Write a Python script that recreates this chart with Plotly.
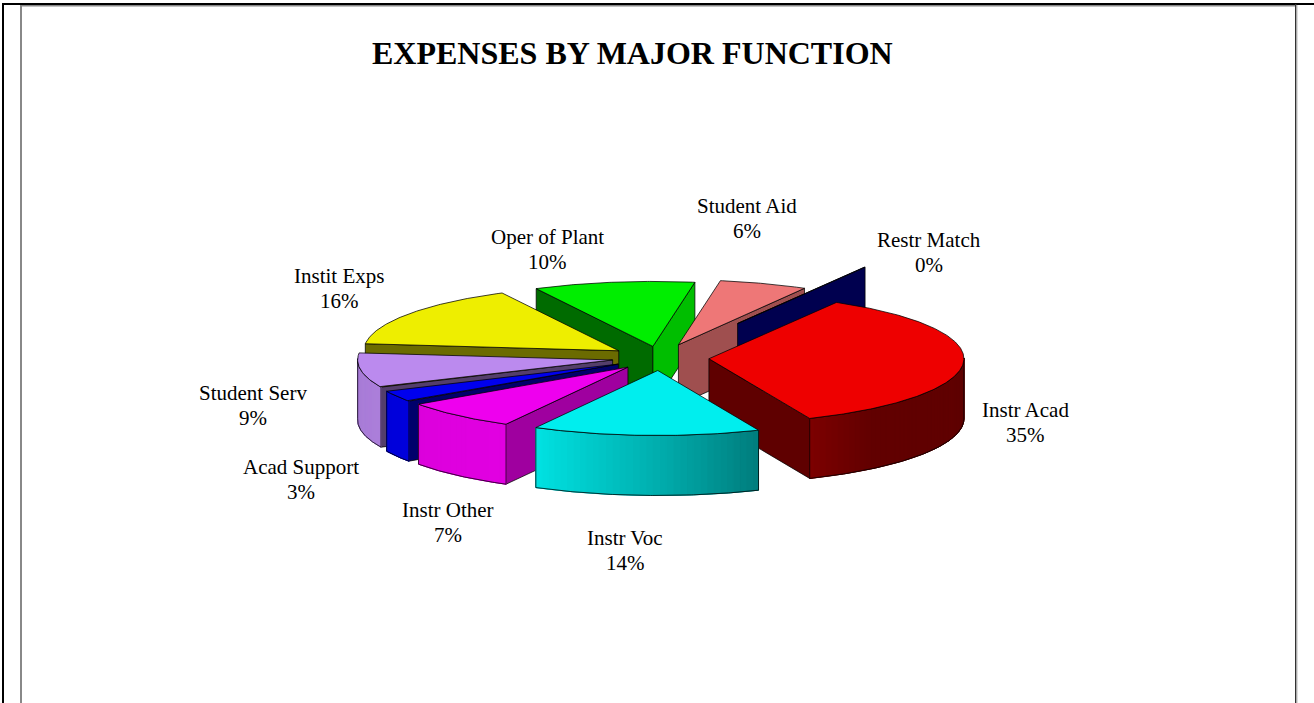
import numpy as np
import plotly.graph_objects as go

# clockwise from Instr Acad, percent of expenses
functions = ['Instr Acad', 'Instr Voc', 'Instr Other', 'Acad Support', 'Student Serv',
             'Instit Exps', 'Oper of Plant', 'Student Aid', 'Restr Match']
percents = [35.2, 14.4, 7.4, 2.8, 8.6, 15.7, 10.2, 5.6, 0.1]

# style
top_colors = ['#EE0000', '#00EEEE', '#EE00EE', '#0000EE', '#BB8AEE',
              '#EEEE00', '#00EE00', '#EE7777', '#000080']
pull = [49, 49, 48, 48, 48, 50, 46, 55, 156]
start_shade = [0, 0, 0.67, 0.45, 0.45, 0.45, 0.45, 0, 0]
end_shade = [0.4, 0, 0, 0, 0, 0, 0.8, 0.67, 0.62]
paint_order = [6, 7, 8, 5, 4, 3, 2, 0, 1]

label_x = [1025, 625, 448, 301, 253, 339, 547, 747, 929]
label_y = [422, 550, 522, 479, 405, 288, 249, 218, 252]

CX, CY = 660, 358
RX, RY = 255, 65
DEPTH = 60
START_ANGLE = 60
LABEL_FONT = 21
TITLE_FONT = 32
STRIP = 3


def shade(color, k):
    r, g, b = [int(color[i:i + 2], 16) for i in (1, 3, 5)]
    return 'rgb({},{},{})'.format(int(r * k), int(g * k), int(b * k))


def outer_shade(angle):
    # light falls off from the left of the pie towards the right
    return np.interp(angle, [-200, -118, -92, -66, -50, 0, 30], [0.88, 0.95, 0.75, 0.52, 0.41, 0.4, 0.4])


def poly(fig, xs, ys, fill, line='black', width=0.75):
    fig.add_trace(go.Scatter(x=xs, y=ys, mode='lines', fill='toself', fillcolor=fill,
                             line=dict(color=line, width=width), hoverinfo='skip', showlegend=False))


fig = go.Figure()

fractions = np.array(percents) / sum(percents)
ends = START_ANGLE - 360 * np.cumsum(fractions)
starts = np.concatenate([[START_ANGLE], ends[:-1]])

for i in paint_order:
    a0, a1 = starts[i], ends[i]
    mid = np.radians((a0 + a1) / 2)
    ax = CX + pull[i] * np.cos(mid)
    ay = CY - pull[i] * RY / RX * np.sin(mid)
    arc = np.radians(np.linspace(a0, a1, max(3, int((a0 - a1) * 2))))
    arc_x = ax + RX * np.cos(arc)
    arc_y = ay - RY * np.sin(arc)

    # radial walls, only where they face the viewer
    if start_shade[i]:
        poly(fig, [ax, arc_x[0], arc_x[0], ax, ax], [ay, arc_y[0], arc_y[0] + DEPTH, ay + DEPTH, ay],
             shade(top_colors[i], start_shade[i]))
    if end_shade[i]:
        poly(fig, [ax, arc_x[-1], arc_x[-1], ax, ax], [ay, arc_y[-1], arc_y[-1] + DEPTH, ay + DEPTH, ay],
             shade(top_colors[i], end_shade[i]))

    # rim, cut in strips to get the gradient
    idx = np.where(np.sin(arc) < 0.02)[0]
    if len(idx) > 1 and i != 8:
        rim_x = list(arc_x[idx]) + list(arc_x[idx][::-1]) + [arc_x[idx[0]]]
        rim_y = list(arc_y[idx]) + list(arc_y[idx][::-1] + DEPTH) + [arc_y[idx[0]]]
        mid_col = shade(top_colors[i], outer_shade(np.degrees(arc[idx[len(idx) // 2]])))
        poly(fig, rim_x, rim_y, mid_col, mid_col, 1)
        for j in range(0, len(idx) - 1, STRIP):
            k = min(j + STRIP, len(idx) - 1)
            p, q = idx[j], idx[k]
            seg = np.arange(p, q + 1)
            col = shade(top_colors[i], outer_shade(np.degrees(arc[(p + q) // 2])))
            poly(fig, list(arc_x[seg]) + list(arc_x[seg][::-1]) + [arc_x[p]],
                 list(arc_y[seg]) + list(arc_y[seg][::-1] + DEPTH) + [arc_y[p]], col, col, 1)
        fig.add_trace(go.Scatter(x=rim_x, y=rim_y, mode='lines', line=dict(color='black', width=0.75),
                                 hoverinfo='skip', showlegend=False))

    poly(fig, [ax] + list(arc_x) + [ax], [ay] + list(arc_y) + [ay], top_colors[i])

# two annotations per label, the line gap is tighter than plotly's <br>
for name, pct, lx, ly in zip(functions, percents, label_x, label_y):
    for txt, yy in [(name, ly - 12.5), ('{}%'.format(round(pct)), ly + 12.5)]:
        fig.add_annotation(x=lx, y=yy, text=txt, showarrow=False,
                           font=dict(family='Liberation Serif', size=LABEL_FONT, color='black'))

fig.add_annotation(x=632, y=53, text='<b>EXPENSES BY MAJOR FUNCTION</b>', showarrow=False,
                   font=dict(family='Liberation Serif', size=TITLE_FONT, color='black'))

# page frame
frame = [(2, 3, 4, 703, 'black'), (3, 3, 1314, 5, 'black'), (20, 5, 1296, 6.5, '#888888'),
         (20, 5, 22, 703, '#888888'), (1295, 4, 1296.5, 703, '#333333'), (1296.5, 5, 1297.5, 703, '#BBBBBB')]
for x0, y0, x1, y1, col in frame:
    fig.add_shape(type='rect', x0=x0, y0=y0, x1=x1, y1=y1, fillcolor=col, line_width=0, layer='below')

fig.update_xaxes(range=[0, 1314], visible=False)
fig.update_yaxes(range=[703, 0], visible=False)
fig.update_layout(width=1314, height=703, margin=dict(l=0, r=0, t=0, b=0),
                  paper_bgcolor='white', plot_bgcolor='white', showlegend=False)

fig.write_html("out.html", config={'displayModeBar': False},
               post_script="document.body.style.margin='0';document.body.style.overflow='hidden';")
